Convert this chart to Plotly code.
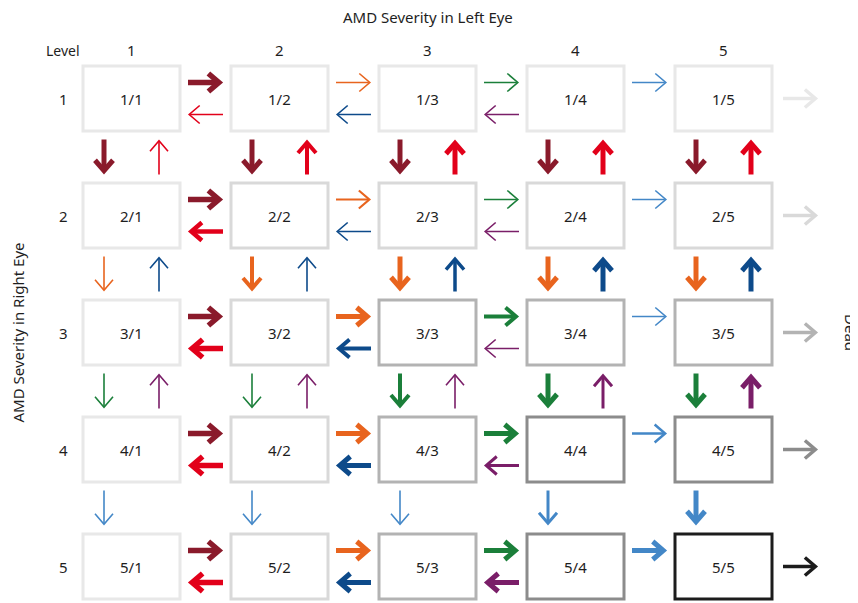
import plotly.graph_objects as go

# ---------------- data ----------------
levels = [1, 2, 3, 4, 5]
level_labels = ["1", "2", "3", "4", "5"]
corner_label = "Level"
title_left_eye = "AMD Severity in Left Eye"
title_right_eye = "AMD Severity in Right Eye"
death_label = "Dead"

# colours of transitions by source level
fwd_colors = ["#8a1a2b", "#e8641e", "#1b7f3a", "#4387c7"]   # 1->2, 2->3, 3->4, 4->5
back_colors = ["#e2001a", "#0d4a8a", "#7a1e68"]             # 2->1, 3->2, 4->3
grey_levels = ["#e8e8e8", "#d9d9d9", "#b3b3b3", "#8c8c8c", "#1c1c1c"]

# arrow weights (line width)
# left-eye transitions, per right-eye row; forward c->c+1
h_fwd_w = [
    [5.5, 1.6, 1.6, 1.6],
    [5.5, 2.2, 1.6, 1.6],
    [5.5, 5.0, 4.0, 1.6],
    [5.5, 5.0, 5.0, 2.5],
    [5.5, 5.0, 5.0, 5.0],
]
# left-eye regression c+1->c
h_back_w = [
    [1.6, 1.6, 1.6],
    [4.5, 1.6, 1.6],
    [5.5, 4.0, 1.6],
    [5.5, 5.0, 3.0],
    [5.5, 5.0, 5.0],
]
# right-eye transitions, per left-eye column; forward r->r+1
v_down_w = [
    [5.0, 1.6, 1.6, 1.6],
    [5.0, 4.0, 1.6, 1.6],
    [5.0, 5.0, 4.0, 1.6],
    [5.0, 5.0, 5.0, 3.0],
    [5.0, 5.0, 5.0, 5.0],
]
# right-eye regression r+1->r
v_up_w = [
    [1.6, 1.6, 1.6],
    [4.0, 1.6, 1.6],
    [5.0, 3.5, 1.6],
    [5.0, 5.0, 3.0],
    [5.0, 5.0, 5.0],
]

# ---------------- layout geometry (pixels) ----------------
W, H = 858, 603
PAGE_OFF = 8                      # page body margin shifts the figure
PXX, PXY = 148.0, 117.0          # pixels per level
OX, OY = 131.5 - PAGE_OFF, 98.5 - PAGE_OFF   # figure pixel position of level 1
x_range = [1 - OX / PXX, 1 + (W - OX) / PXX]
y_range = [1 + (H - OY) / PXY, 1 - OY / PXY]   # reversed

BOX_HW, BOX_HH = 48.5 / PXX, 32.5 / PXY
HALF_LEN = 17.5
HEAD_L, HEAD_W = 10.5, 9.0

FONT = "Noto Sans"
TXT = "#1e1e1e"

fig = go.Figure()


def px_x(p):
    """reference pixel x -> data x"""
    return 1 + (p - PAGE_OFF - OX) / PXX


def px_y(p):
    return 1 + (p - PAGE_OFF - OY) / PXY


def add_arrow(xc, yc, dxs, dys, width, color):
    """arrow centred at (xc, yc) in data units pointing in pixel direction (dxs, dys)"""
    tip_off = HALF_LEN - 0.75 * width
    tx, ty = xc + dxs * tip_off / PXX, yc + dys * tip_off / PXY
    sx, sy = xc - dxs * HALF_LEN / PXX, yc - dys * HALF_LEN / PXY
    ex, ey = tx - dxs * 0.6 * width / PXX, ty - dys * 0.6 * width / PXY
    nx, ny = -dys, dxs
    b1x = tx + (-dxs * HEAD_L + nx * HEAD_W) / PXX
    b1y = ty + (-dys * HEAD_L + ny * HEAD_W) / PXY
    b2x = tx + (-dxs * HEAD_L - nx * HEAD_W) / PXX
    b2y = ty + (-dys * HEAD_L - ny * HEAD_W) / PXY
    fig.add_trace(go.Scatter(
        x=[sx, ex, None, b1x, tx, b2x],
        y=[sy, ey, None, b1y, ty, b2y],
        mode="lines", line=dict(color=color, width=width),
        hoverinfo="skip", showlegend=False))


V_OFF = 16 / PXY   # vertical offset of horizontal arrows from row centre
H_OFF = 27.5 / PXX  # horizontal offset of vertical arrows from column centre

# horizontal arrows
for ri, r in enumerate(levels):
    for ci in range(len(levels) - 1):
        xm = levels[ci] + 0.5
        add_arrow(xm, r - V_OFF, 1, 0, h_fwd_w[ri][ci], fwd_colors[ci])
        if ci < len(back_colors):
            add_arrow(xm, r + V_OFF, -1, 0, h_back_w[ri][ci], back_colors[ci])

# vertical arrows
for ci, c in enumerate(levels):
    for ri in range(len(levels) - 1):
        ym = levels[ri] + 0.5
        add_arrow(c - H_OFF, ym, 0, 1, v_down_w[ci][ri], fwd_colors[ri])
        if ri < len(back_colors):
            add_arrow(c + H_OFF, ym, 0, -1, v_up_w[ci][ri], back_colors[ri])

# death arrows
death_x = px_x(800.5)
for ri, r in enumerate(levels):
    add_arrow(death_x, r, 1, 0, 3.5, grey_levels[ri])

# boxes
shapes = []
annotations = []
for r in levels:
    for c in levels:
        shapes.append(dict(type="rect", xref="x", yref="y",
                           x0=c - BOX_HW, x1=c + BOX_HW, y0=r - BOX_HH, y1=r + BOX_HH,
                           line=dict(color=grey_levels[min(r, c) - 1], width=3),
                           fillcolor="rgba(0,0,0,0)", layer="below"))
        annotations.append(dict(x=c, y=r, xref="x", yref="y", text=f"{r}/{c}",
                                showarrow=False, font=dict(family=FONT, size=15, color=TXT)))

# headers
hdr_y = px_y(50)
row_lab_x = px_x(63)
for c, lab in zip(levels, level_labels):
    annotations.append(dict(x=c, y=hdr_y, xref="x", yref="y", text=lab, showarrow=False,
                            font=dict(family=FONT, size=15, color=TXT)))
for r, lab in zip(levels, level_labels):
    annotations.append(dict(x=row_lab_x, y=r, xref="x", yref="y", text=lab, showarrow=False,
                            font=dict(family=FONT, size=15, color=TXT)))
annotations.append(dict(x=row_lab_x, y=hdr_y, xref="x", yref="y", text=corner_label,
                        showarrow=False, font=dict(family=FONT, size=14, color=TXT)))
annotations.append(dict(x=3, y=px_y(17), xref="x", yref="y", text=title_left_eye,
                        showarrow=False, font=dict(family=FONT, size=15, color=TXT)))
annotations.append(dict(x=px_x(17), y=3, xref="x", yref="y", text=title_right_eye,
                        textangle=-90, showarrow=False, font=dict(family=FONT, size=15, color=TXT)))
annotations.append(dict(x=px_x(851.5), y=3, xref="x", yref="y", text=death_label,
                        textangle=90, showarrow=False, font=dict(family=FONT, size=15, color=TXT)))

fig.update_layout(
    width=W, height=H,
    margin=dict(l=0, r=0, t=0, b=0),
    paper_bgcolor="white", plot_bgcolor="white",
    xaxis=dict(range=x_range, visible=False, fixedrange=True),
    yaxis=dict(range=y_range, visible=False, fixedrange=True),
    shapes=shapes, annotations=annotations,
    showlegend=False,
)

fig.write_html("out.html")
